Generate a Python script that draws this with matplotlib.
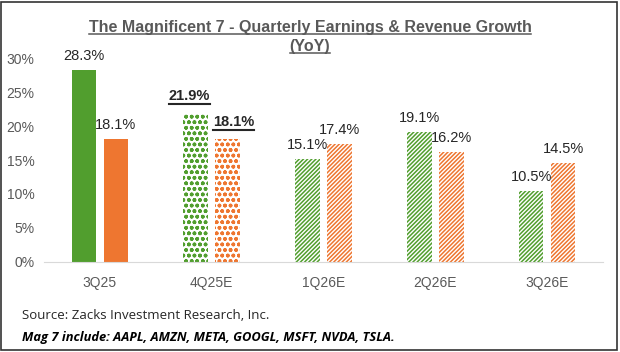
import matplotlib.pyplot as plt
import numpy as np
from matplotlib.patches import Rectangle

quarters = ["3Q25", "4Q25E", "1Q26E", "2Q26E", "3Q26E"]
earnings = [28.3, 21.9, 15.1, 19.1, 10.5]
revenue = [18.1, 18.1, 17.4, 16.2, 14.5]
patterns = ["", "ooo", "////////", "////////", "////////"]
bold_labels = [False, True, False, False, False]

green = "#519e2e"
orange = "#ee7630"
gray = "#595959"

plt.rcParams["font.family"] = ["Liberation Sans", "DejaVu Sans"]
plt.rcParams["hatch.linewidth"] = 1.1

fig = plt.figure(figsize=(6.2, 3.52), dpi=100)
ax = fig.add_axes([0.071, 0.2557, 0.9016, 0.5795])

x = np.arange(len(quarters))
w = 0.22
off = 0.143

underlined = []
for i in range(len(quarters)):
    for val, col, dx, nudge in [(earnings[i], green, -off, -4.5), (revenue[i], orange, off, 4)]:
        if patterns[i] == "":
            ax.bar(x[i] + dx, val, w, color=col, linewidth=0)
        else:
            ax.bar(x[i] + dx, val, w, facecolor="white", edgecolor=col,
                   hatch=patterns[i], linewidth=0)
        bold = bold_labels[i]
        pos = (nudge, 7) if bold else (0, 5)
        t = ax.annotate(f"{val:.1f}%", (x[i] + dx, val), xytext=pos,
                        textcoords="offset points", ha="center", va="bottom",
                        fontsize=10.5, color="#262626",
                        fontweight="bold" if bold else "normal")
        if bold:
            underlined.append(t)

ax.set_xlim(-0.5, 4.5)
ax.set_ylim(0, 30)
ax.set_yticks(range(0, 31, 5))
ax.set_yticklabels([f"{v}%" for v in range(0, 31, 5)])
ax.set_xticks(x)
ax.set_xticklabels(quarters)
ax.tick_params(length=0, colors=gray, labelsize=10)
ax.tick_params(axis="x", pad=10)
ax.tick_params(axis="y", pad=7)
for s in ["top", "right", "left"]:
    ax.spines[s].set_visible(False)
ax.spines["bottom"].set_color("#d9d9d9")

title1 = fig.text(0.5, 0.923, "The Magnificent 7 - Quarterly Earnings & Revenue Growth",
                  ha="center", va="center", fontsize=11.5, fontweight="bold", color=gray)
title2 = fig.text(0.5, 0.868, "(YoY)", ha="center", va="center", fontsize=11.5,
                  fontweight="bold", color=gray)

fig.text(0.035, 0.105, "Source: Zacks Investment Research, Inc.", fontsize=9.5,
         family="Open Sans", color="#262626", va="center")
fig.text(0.035, 0.042, "Mag 7 include: AAPL, AMZN, META, GOOGL, MSFT, NVDA, TSLA.",
         fontsize=9.3, family="Open Sans", fontweight="bold", style="italic",
         color="black", va="center")

# underline texts using their rendered extents
fig.canvas.draw()
inv = fig.transFigure.inverted()
lines = [(title1, gray, 0.5, 1.1), (title2, gray, 0.5, 1.1)]
lines += [(t, "#262626", -0.5, 1.5) for t in underlined]
for t, col, dy, lw in lines:
    bb = t.get_window_extent()
    (x0, y0), (x1, _) = inv.transform([(bb.x0, bb.y0 + dy), (bb.x1, bb.y0)])
    fig.add_artist(plt.Line2D([x0, x1], [y0, y0], color=col, lw=lw))

fig.add_artist(Rectangle((0.002, 0.005), 0.993, 0.99, transform=fig.transFigure,
                         fill=False, edgecolor="#333333", lw=1.2))

fig.savefig("out.png", dpi=100)
